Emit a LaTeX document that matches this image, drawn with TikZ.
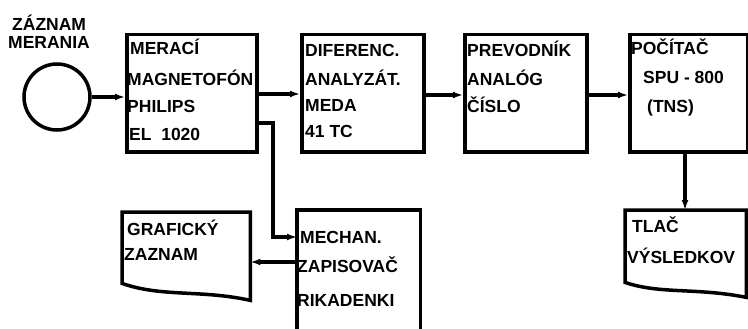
\documentclass[tikz,border=0pt]{standalone}
\usepackage{fontspec}
\setmainfont{Liberation Sans}
\usetikzlibrary{arrows.meta}
\begin{document}
\begin{tikzpicture}[x=1pt,y=-1pt,
  lw/.style={line width=3.5pt},
  box/.style={lw,draw=black,rectangle,inner sep=0pt,anchor=north west},
  area/.style={draw=none,rectangle,inner sep=0pt,anchor=north west},
  txt/.style={anchor=base west,inner sep=0pt,font=\fontsize{17.5}{21}\selectfont\bfseries},
  arr/.style={lw,-{Latex[length=10pt,width=7pt]}},
  ln/.style={lw}]
\useasboundingbox (0,0) rectangle (748,329);
\fill[white] (0,0) rectangle (748,329);

% title and circle
\node[txt] (t1) at (12,31) {ZÁZNAM};
\node[txt] (t2) at (8,49) {MERANIA};
\node[lw,draw=black,circle,minimum size=66pt,inner sep=0pt] (circ) at (57,97) {};

% box 1
\node[box,minimum width=130pt,minimum height=117pt] (b1) at (125,33) {};
\node[txt] (b1a) at (130,55) {MERACÍ};
\node[txt] (b1b) at (127,85) {MAGNETOFÓN};
\node[txt] (b1c) at (127,113) {PHILIPS};
\node[txt] (b1d) at (129,140) {EL\ \ 1020};

% box 2
\node[box,minimum width=122pt,minimum height=117pt] (b2) at (300,33) {};
\node[txt] (b2a) at (305,57) {DIFERENC.};
\node[txt] (b2b) at (305,85) {ANALYZÁT.};
\node[txt] (b2c) at (305,112) {MEDA};
\node[txt] (b2d) at (305,138) {41\ TC};

% box 3
\node[box,minimum width=122pt,minimum height=117pt] (b3) at (463,33) {};
\node[txt] (b3a) at (467,57) {PREVODNÍK};
\node[txt] (b3b) at (467,85) {ANALÓG};
\node[txt] (b3c) at (467,113) {ČÍSLO};

% box 4
\node[box,minimum width=118pt,minimum height=117pt] (b4) at (628,33) {};
\node[txt] (b4a) at (631,55) {POČÍTAČ};
\node[txt] (b4b) at (643,84) {SPU - 800};
\node[txt] (b4c) at (647,113) {(TNS)};

% mechan. box (open at bottom)
\node[area,minimum width=123pt,minimum height=119pt] (m) at (297,210) {};
\draw[ln] (m.south west) -- (m.north west) -- (m.north east) -- (m.south east);
\node[txt] (ma) at (300,243) {MECHAN.};
\node[txt] (mb) at (297,272) {ZAPISOVAČ};
\node[txt] (mc) at (297,306) {RIKADENKI};

% graficky zaznam document
\node[area,minimum width=128pt,minimum height=71pt] (g) at (122,212) {};
\draw[ln] (g.south west) -- (g.north west) -- (g.north east) -- ([yshift=-17pt]g.south east)
  .. controls ([xshift=-50pt,yshift=-6pt]g.south east) and ([xshift=40pt,yshift=-14pt]g.south west) .. (g.south west) -- cycle;
\node[txt] (ga) at (127,235) {GRAFICKÝ};
\node[txt] (gb) at (124,260) {ZAZNAM};

% tlac vysledkov document
\node[area,minimum width=121pt,minimum height=72pt] (p) at (625,210) {};
\draw[ln] (p.south west) -- (p.north west) -- (p.north east) -- ([yshift=-15pt]p.south east)
  .. controls ([xshift=-50pt,yshift=-5pt]p.south east) and ([xshift=35pt,yshift=-12pt]p.south west) .. (p.south west) -- cycle;
\node[txt] (pa) at (632,232) {TLAČ};
\node[txt] (pb) at (627,263) {VÝSLEDKOV};

% row coordinates
\coordinate (r94) at (0,94);
\coordinate (r95) at (0,95);
\coordinate (r123) at (0,123);
\coordinate (r237) at (0,237);
\coordinate (r262) at (0,262);
\coordinate (c273) at (273,0);
\coordinate (c685) at (685,0);

% connectors
\draw[arr] (circ.east) -- (circ.east -| b1.west);
\draw[arr] (b1.east |- r94) -- (b2.west |- r94);
\draw[arr] (b1.east |- r123) -- (c273 |- r123) -- (c273 |- r237) -- (m.west |- r237);
\draw[arr] (b2.east |- r95) -- (b3.west |- r95);
\draw[arr] (b3.east |- r95) -- (b4.west |- r95);
\draw[arr] (c685 |- b4.south) -- (c685 |- p.north);
\draw[arr] (m.west |- r262) -- (g.east |- r262);
\end{tikzpicture}
\end{document}
